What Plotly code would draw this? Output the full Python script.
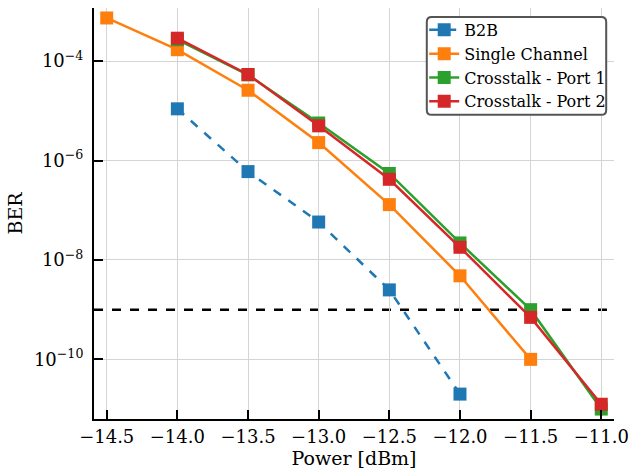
import plotly.graph_objects as go

# Received optical power (dBm) and measured bit error ratio for each configuration
power_b2b = [-14.0, -13.5, -13.0, -12.5, -12.0]
ber_b2b = [1.1e-5, 6.0e-7, 5.8e-8, 2.5e-9, 2.0e-11]

power_single = [-14.5, -14.0, -13.5, -13.0, -12.5, -12.0, -11.5]
ber_single = [7.4e-4, 1.7e-4, 2.6e-5, 2.3e-6, 1.3e-7, 4.8e-9, 1.0e-10]

power_xt = [-14.0, -13.5, -13.0, -12.5, -12.0, -11.5, -11.0]
ber_port1 = [2.7e-4, 5.3e-5, 5.7e-6, 5.5e-7, 2.2e-8, 1.0e-9, 1.0e-11]
ber_port2 = [2.9e-4, 5.4e-5, 5.0e-6, 4.2e-7, 1.8e-8, 7.0e-10, 1.25e-11]

# FEC threshold
ber_threshold = 1e-9

x_ticks = [-14.5, -14.0, -13.5, -13.0, -12.5, -12.0, -11.5, -11.0]
x_tick_text = ["\u2212" + f"{abs(v):.1f}" for v in x_ticks]
y_exponents = [-10, -8, -6, -4]
y_ticks = [10.0 ** e for e in y_exponents]
y_tick_text = [f"10<sup>\u2212{abs(e)}</sup>" for e in y_exponents]

font_family = "DejaVu Serif"
colors = ["#1f77b4", "#ff7f0e", "#2ca02c", "#d62728"]

fig = go.Figure()

series = [
    ("B2B", power_b2b, ber_b2b, colors[0], "dash"),
    ("Single Channel", power_single, ber_single, colors[1], "solid"),
    ("Crosstalk - Port 1", power_xt, ber_port1, colors[2], "solid"),
    ("Crosstalk - Port 2", power_xt, ber_port2, colors[3], "solid"),
]
for name, xs, ys, col, dash in series:
    fig.add_trace(go.Scatter(
        x=xs, y=ys, name=name, mode="lines+markers",
        line=dict(color=col, width=2.5, dash=dash),
        marker=dict(symbol="square", size=13, color=col),
    ))

fig.add_hline(y=ber_threshold, line=dict(color="black", width=2.5, dash="dash"),
              layer="below")

# Rounded frame behind the legend entries
bx0, bx1, by0, by1 = 0.640, 0.985, 0.740, 0.978
rx, ry = 5 / 528, 5 / 416
frame = (
    f"M {bx0 + rx} {by1} L {bx1 - rx} {by1} Q {bx1} {by1} {bx1} {by1 - ry} "
    f"L {bx1} {by0 + ry} Q {bx1} {by0} {bx1 - rx} {by0} "
    f"L {bx0 + rx} {by0} Q {bx0} {by0} {bx0} {by0 + ry} "
    f"L {bx0} {by1 - ry} Q {bx0} {by1} {bx0 + rx} {by1} Z"
)
fig.add_shape(type="path", path=frame, xref="paper", yref="paper",
              fillcolor="white", line=dict(color="#555555", width=2),
              layer="above")

tick_font = dict(family=font_family, size=18, color="black")

fig.update_layout(
    width=637, height=472,
    margin=dict(l=94, r=15, t=8, b=48),
    paper_bgcolor="white", plot_bgcolor="white",
    font=dict(family=font_family, size=16, color="black"),
    showlegend=True,
    legend=dict(
        x=0.635, y=0.988, xanchor="left", yanchor="top",
        bgcolor="rgba(0,0,0,0)", borderwidth=0,
        font=dict(family=font_family, size=16),
        tracegroupgap=0, itemwidth=30,
    ),
    xaxis=dict(
        range=[-14.59, -10.91],
        tickvals=x_ticks, ticktext=x_tick_text, tickfont=tick_font,
        showgrid=True, gridcolor="#d4d4d4", gridwidth=1,
        showline=True, linecolor="black", linewidth=2,
        ticks="inside", ticklen=9, tickwidth=2, tickcolor="black",
        zeroline=False,
        title=dict(text="Power [dBm]", standoff=4),
    ),
    yaxis=dict(
        type="log", range=[-11.2, -2.93],
        tickvals=y_ticks, ticktext=y_tick_text, tickfont=tick_font,
        ticklabelstandoff=5,
        showgrid=True, gridcolor="#d4d4d4", gridwidth=1,
        showline=True, linecolor="black", linewidth=2,
        ticks="inside", ticklen=9, tickwidth=2, tickcolor="black",
        zeroline=False,
        title=dict(text="BER", standoff=6),
    ),
)

fig.write_html("out.html")
